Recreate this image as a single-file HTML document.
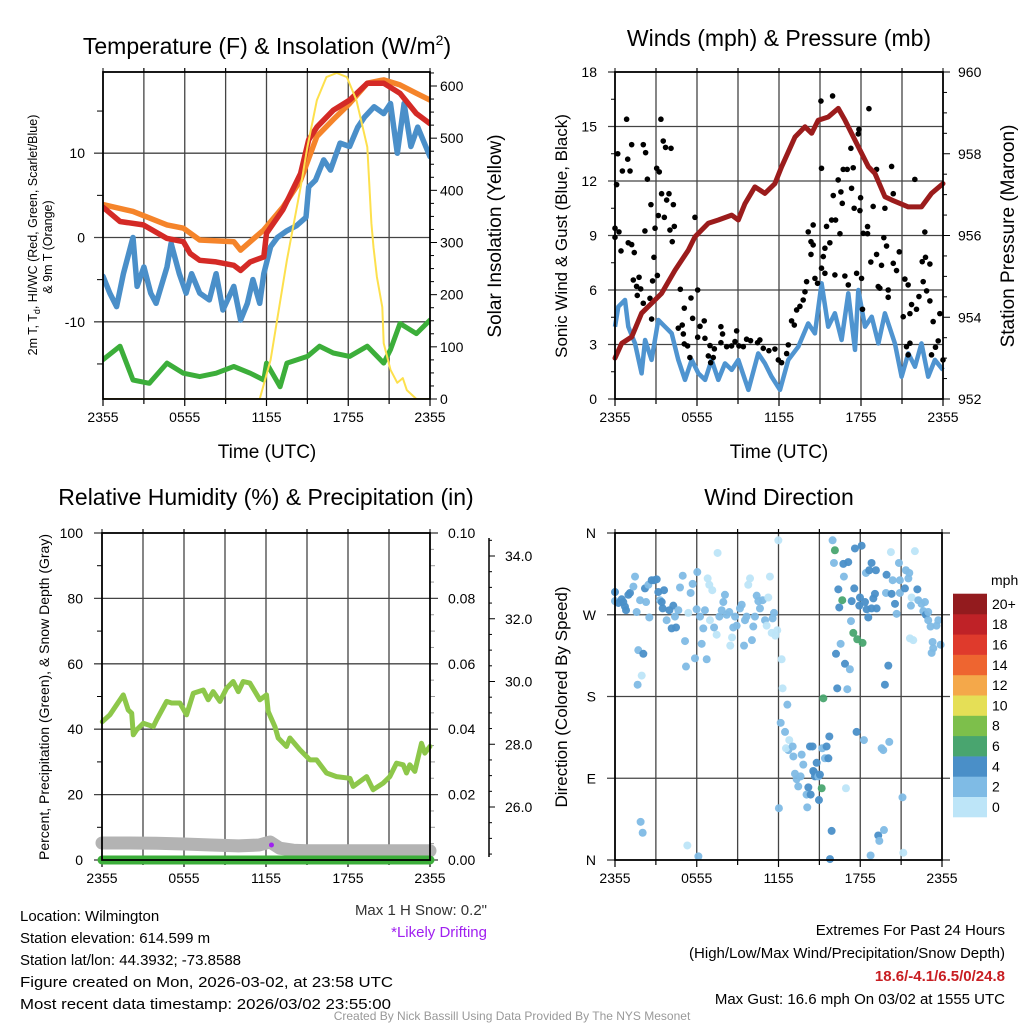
<!DOCTYPE html>
<html><head><meta charset="utf-8">
<style>
html,body{margin:0;padding:0;background:#fff;}
svg{display:block;font-family:"Liberation Sans",sans-serif;}
</style></head>
<body>
<svg id="c" width="1024" height="1024" viewBox="0 0 1024 1024" xmlns="http://www.w3.org/2000/svg">
<rect width="1024" height="1024" fill="#fff"/>
<text x="267" y="54" font-size="23" text-anchor="middle">Temperature (F) &amp; Insolation (W/m<tspan font-size="14" dy="-9">2</tspan><tspan dy="9">)</tspan></text>
<text x="779" y="46" font-size="23" text-anchor="middle">Winds (mph) &amp; Pressure (mb)</text>
<text x="266" y="505" font-size="23" text-anchor="middle">Relative Humidity (%) &amp; Precipitation (in)</text>
<text x="779" y="505" font-size="23" text-anchor="middle">Wind Direction</text>

<text transform="translate(37,235) rotate(-90)" font-size="12.5" text-anchor="middle">2m T, T<tspan font-size="9" dy="3">d</tspan><tspan dy="-3">, HI/WC (Red, Green, Scarlet/Blue)</tspan></text>
<text transform="translate(52,247) rotate(-90)" font-size="12.5" text-anchor="middle">&amp; 9m T (Orange)</text>
<text transform="translate(501,236) rotate(-90)" font-size="19" text-anchor="middle">Solar Insolation (Yellow)</text>
<text x="267" y="458" font-size="19" text-anchor="middle">Time (UTC)</text>

<text transform="translate(567,236) rotate(-90)" font-size="17" text-anchor="middle">Sonic Wind &amp; Gust (Blue, Black)</text>
<text transform="translate(1014,236) rotate(-90)" font-size="19" text-anchor="middle">Station Pressure (Maroon)</text>
<text x="779" y="458" font-size="19" text-anchor="middle">Time (UTC)</text>

<text transform="translate(49,697) rotate(-90)" font-size="14" text-anchor="middle">Percent, Precipitation (Green), &amp; Snow Depth (Gray)</text>
<text transform="translate(567,697) rotate(-90)" font-size="17" text-anchor="middle">Direction (Colored By Speed)</text>

<text x="487" y="915" font-size="15" text-anchor="end" fill="#333">Max 1 H Snow: 0.2"</text>
<text x="487" y="937" font-size="15" text-anchor="end" fill="#a020f0">*Likely Drifting</text>

<g font-size="15">
<text x="20" y="921">Location: Wilmington</text>
<text x="20" y="943">Station elevation: 614.599 m</text>
<text x="20" y="965">Station lat/lon: 44.3932; -73.8588</text>
<text x="20" y="987" textLength="373" lengthAdjust="spacingAndGlyphs">Figure created on Mon, 2026-03-02, at 23:58 UTC</text>
<text x="20" y="1009" textLength="371" lengthAdjust="spacingAndGlyphs">Most recent data timestamp: 2026/03/02 23:55:00</text>
</g>
<g font-size="15" text-anchor="end">
<text x="1005" y="935">Extremes For Past 24 Hours</text>
<text x="1005" y="958">(High/Low/Max Wind/Precipitation/Snow Depth)</text>
<text x="1005" y="981" fill="#c81e22" font-weight="bold">18.6/-4.1/6.5/0/24.8</text>
<text x="1005" y="1004">Max Gust: 16.6 mph On 03/02 at 1555 UTC</text>
</g>
<text x="512" y="1020" font-size="12" text-anchor="middle" fill="#999">Created By Nick Bassill Using Data Provided By The NYS Mesonet</text>
</svg>
<script>
// ---------- Panel 1 data ----------
const redT=[0,1.25,2.96,4.67,5.9,6.4,7.1,8.3,9.6,10.1,10.8,11.8,12.0,13.2,14.5,15.1,15.7,16.9,18.1,19.4,20.6,21.8,23.0,24];
const redV=[3.6,1.9,1.5,-0.1,-0.5,-1.9,-2.7,-2.9,-3.3,-3.9,-2.9,-2.3,0.5,3.3,7.6,11.6,13.1,15.1,16.3,18.3,18.3,17.1,14.7,13.5];
const orangeT=[0,2.2,4.7,5.9,7.1,9.6,10.1,10.8,11.8,13.2,14.5,15.7,16.9,18.1,19.4,20.6,21.8,23.0,24];
const orangeV=[3.9,3.1,1.5,1.1,-0.3,-0.5,-1.5,-0.5,0.9,3.6,6.8,12.0,14.0,15.9,18.3,18.7,18.1,17.1,16.3];
const blueT=[0,0.5,1.0,1.5,2.2,2.5,3.0,3.5,3.9,4.7,5.0,5.6,6.1,6.5,7.1,7.8,8.3,8.8,9.6,10.1,10.6,11.0,11.5,11.8,12.3,12.8,13.5,14.2,14.9,15.1,15.6,16.2,16.7,17.4,18.1,18.7,19.2,19.9,20.6,21.1,21.6,22.1,22.6,23.1,24];
const blueV=[-4.6,-6.6,-8.2,-4.3,0,-5.8,-3.5,-6.6,-7.8,-3.5,-0.7,-4.3,-6.6,-4.3,-6.6,-7.4,-4.3,-8.6,-5.8,-9.8,-7.8,-5.0,-7.8,-4.3,-1.1,0,0.8,1.4,2.4,6.0,6.8,9.2,8.0,11.2,10.8,13.1,14.3,15.5,14.7,15.9,10.0,15.9,10.8,13.1,9.6];
const greenT=[0,1.25,2.2,3.4,4.7,5.9,7.1,8.3,9.6,10.8,11.8,12.0,13.0,13.5,15.0,15.9,16.9,18.1,19.4,20.6,21.1,21.8,23.0,24];
const greenV=[-14.5,-12.9,-16.9,-17.3,-14.9,-16.1,-16.5,-16.1,-15.3,-16.1,-16.9,-14.9,-17.7,-14.9,-14.1,-12.9,-13.7,-14.1,-12.9,-14.9,-13.3,-10.2,-11.4,-9.8];
const solarT=[0,11.5,12.3,13.5,14.5,15.0,15.7,16.4,17.15,17.9,18.6,19.4,19.7,19.85,20.1,20.5,20.6,21.1,21.6,22.0,22.3,23.0,24];
const solarV=[0,0,75,266,406,483,573,617,625,617,573,483,337,291,234,176,107,56,31,40,17,0,0];
const timeTicks=["2355","0555","1155","1755","2355"];
const tempTicks=[-10,0,10];
const solarTicks=[0,100,200,300,400,500,600];
// ---------- Panel 2 data ----------
const presT=[0,0.49,1.22,1.95,3.4,4.39,5.36,5.85,6.83,7.56,8.54,9.02,9.51,10.24,10.97,11.7,12.19,13.17,13.9,14.39,14.87,15.6,16.34,16.83,17.8,18.54,19.02,19.75,20.24,21.46,22.43,23.16,24];
const presV=[953.0,953.36,953.52,954.1,954.58,955.15,955.64,955.97,956.3,956.38,956.5,956.38,956.78,957.19,957.03,957.27,957.68,958.41,958.66,958.5,958.82,958.9,959.11,958.82,958.17,957.68,957.52,956.95,956.87,956.7,956.7,957.03,957.27];
const windT=[0,0.24,0.73,0.97,1.46,1.95,2.2,2.68,3.17,3.66,4.15,4.63,5.12,5.61,6.1,6.59,7.07,7.56,8.05,8.54,9.02,9.76,10.48,10.97,11.46,12.07,12.68,13.41,14.14,14.63,15.12,15.6,16.09,16.58,17.07,17.56,17.8,18.29,18.78,19.27,19.75,20.48,20.97,21.46,21.95,22.43,22.92,23.41,24];
const windV=[3.98,5.08,5.45,3.98,3.06,1.41,3.25,2.15,4.35,3.98,3.61,2.15,1.05,2.15,1.41,1.05,2.15,1.05,1.96,1.6,2.15,0.5,2.51,1.96,1.23,0.5,2.15,2.88,4.16,3.61,6.37,3.98,4.72,3.25,5.82,2.7,6.0,3.98,4.53,3.06,4.72,3.06,1.23,2.51,1.78,3.06,1.23,2.15,1.6];
const gustT=[0.85,0.2,0.12,0.54,1.1,0.93,1.22,2.07,2.24,2.37,3.36,3.53,3.7,4.1,3.05,3.24,3.41,3.95,3.78,4.27,2.63,3.17,3.61,2.93,4.34,4.02,4.19,2.19,0,0.29,0,0.44,0.97,1.22,1.41,2.85,3.1,2.75,1.34,1.76,1.58,1.88,1.63,2.56,2.07,2.68,4.78,5.85,6.05,5.56,5.07,4.92,4.63,5.0,5.68,6.22,6.53,5.07,5.31,5.48,6.05,6.58,6.95,7.27,6.83,7.19,7.0,7.75,7.87,7.75,8.17,8.53,8.9,8.78,9.07,9.39,9.63,9.92,10.43,10.6,10.85,11.26,11.7,11.95,12.19,12.56,12.68,12.92,13.12,13.29,13.53,13.77,13.9,14.02,14.63,14.82,14.14,14.5,14.34,14.5,14.34,15.36,15.72,15.48,15.85,16.14,16.46,15.24,15.11,15.36,16.09,16.82,17.07,17.68,18.04,18.11,15.97,16.53,16.63,17.31,17.5,17.92,17.97,16.33,16.7,16.99,17.43,17.8,17.85,17.26,15.11,15.07,15.92,18.58,19.14,20.24,18.16,18.48,18.48,18.89,19.75,20.36,19.67,19.87,19.14,19.5,18.72,19.26,19.38,20.36,20.6,19.99,19.99,20.8,21.21,21.45,21.94,22.67,22.72,22.48,23.04,22.55,22.8,22.24,23.04,21.7,22.06,21.58,21.09,21.33,21.58,23.28,23.77,23.65,23.45,23.16,21.45,24.0];
const gustV=[15.4,13.5,11.8,12.55,12.55,13.2,14.0,14.0,13.56,12.1,15.4,14.2,13.85,13.8,12.7,12.5,11.3,11.3,10.95,10.7,10.7,10.1,10.0,9.4,9.5,9.3,8.66,9.25,9.4,9.2,8.9,8.15,8.6,8.5,8.06,7.8,6.8,6.5,6.55,6.7,6.2,6.06,5.7,5.54,5.27,4.4,6.04,10.0,6.0,5.56,5.0,4.07,3.9,3.58,4.44,4.0,4.3,3.03,2.92,2.28,3.4,3.34,2.94,2.76,2.37,2.28,2.0,3.98,3.58,3.1,2.88,2.92,3.75,3.16,2.92,2.88,3.29,3.21,3.1,3.25,2.79,2.66,2.75,2.15,2.0,2.5,2.98,4.3,4.07,4.9,5.1,5.45,5.9,6.46,6.64,6.37,9.2,9.58,8.66,8.48,7.96,8.3,8.6,9.5,9.85,9.85,9.1,7.84,7.2,6.92,6.83,6.77,6.28,6.92,6.64,4.94,11.2,11.4,10.77,11.6,10.5,10.37,11.08,12.06,12.64,12.64,12.73,14.59,14.84,13.8,12.7,16.4,16.68,15.98,12.64,12.8,9.12,9.49,9.1,10.6,10.5,11.3,8.88,8.42,7.96,7.36,7.54,6.19,6.1,7.47,7.07,6.0,5.6,8.1,6.6,6.28,12.09,9.19,7.8,7.56,7.43,6.46,5.95,5.64,5.4,5.2,4.94,4.7,4.53,2.88,3.07,4.26,4.7,3.2,2.85,2.43,2.43,2.15];
const windTicks=[0,3,6,9,12,15,18];
const presTicks=[952,954,956,958,960];
// ---------- Panel 3 data ----------
const rhT=[0.02,0.58,1.56,1.92,2.17,2.29,2.53,3.02,3.75,4.0,4.73,5.09,5.7,6.19,6.68,7.41,7.77,8.14,8.63,9.12,9.6,9.97,10.33,10.82,11.55,12.04,12.16,12.65,12.89,13.5,13.75,14.48,15.21,15.7,16.43,17.16,18.14,18.38,19.36,19.84,20.57,21.06,21.55,22.04,22.28,22.52,22.89,23.38,23.62,23.99];
const rhV=[42.3,44.4,50.5,45.9,44.9,38.3,39.8,41.8,40.8,42.9,48.5,48.0,48.0,44.4,51.0,52.0,49.0,51.5,48.5,52.5,54.6,51.5,54.6,54.1,49.0,50.5,45.4,40.8,37.3,34.7,37.3,33.7,30.6,30.6,26.6,25.5,25.0,22.5,25.5,21.5,23.5,25.5,29.6,29.1,26.6,29.1,27.1,35.7,32.7,34.7];
const snowT=[0,2,4,6,8,10,11.5,12.3,13,14,15,18,21,24];
const snowV=[5.2,5.2,5.1,4.9,4.6,4.3,4.6,5.5,3.6,3.0,2.8,2.8,2.8,2.8];
const precipT=[0,24];
const precipV=[0,0];
const rhTicks=[0,20,40,60,80,100];
const precTicks=["0.00","0.02","0.04","0.06","0.08","0.10"];
const depthTicks=["26.0","28.0","30.0","32.0","34.0"];
// ---------- Panel 4 data ----------
const dirT=[0,0,0.25,0.49,0.73,0.81,0.61,0.98,1.1,1.35,1.47,1.59,1.84,2.2,2.28,2.52,2.45,2.69,2.86,3.06,3.18,3.3,3.43,3.6,3.5,3.79,3.99,4.16,4.28,4.4,4.48,4.65,4.77,4.97,5.14,5.21,5.38,5.55,5.7,5.87,5.99,6.04,6.24,6.36,6.48,6.6,6.73,6.8,6.92,6.97,7.14,7.27,7.46,7.53,7.66,7.83,7.95,8.07,8.2,8.39,8.46,8.59,8.68,8.81,8.93,9.17,9.3,9.47,9.54,9.66,9.78,9.91,10.05,10.15,10.27,10.4,10.52,10.64,10.84,11.01,11.13,11.25,11.37,11.5,11.57,11.67,11.77,11.91,1.71,2.08,1.96,1.66,1.88,2.03,5.31,6.12,11.99,12.23,12.3,12.65,12.16,12.48,12.79,12.72,12.55,13.04,13.09,13.33,13.21,13.45,13.62,13.7,13.82,14.06,14.19,14.11,14.36,14.31,14.5,14.6,14.68,14.55,14.8,14.92,14.97,15.04,15.21,15.17,15.29,15.41,15.53,15.66,15.73,15.9,15.78,12.03,16.95,17.73,18.27,19.57,19.69,20.13,19.74,19.32,19.4,18.76,21.1,21.16,15.97,16.14,16.07,16.76,17.12,16.8,16.39,16.68,16.46,17.37,17.61,18.1,17.56,17.98,17.93,18.35,18.47,18.59,18.83,18.42,18.66,19.15,18.96,19.08,18.83,19.2,19.93,19.89,20.38,20.3,20.55,20.67,20.84,20.91,20.91,21.28,21.35,21.53,21.6,21.77,21.72,22.01,22.19,22.26,22.5,22.63,22.75,22.82,22.99,22.99,23.16,23.6,23.73,23.9,23.31,23.36,23.24,21.65,21.89,20.25,17.32,17.49,17.78,18.17,16.56,16.22,16.88,17.24,16.31,17.05,19.81,20.06];
const dirDeg=[295,285,283,287,279,275,284,292,294,301,312,273,286,299,284,267,303,308,308,309,295,286,284,297,277,264,275,255,280,268,256,275,300,313,241,213,272,294,304,222,276,317,268,238,255,275,221,310,303,264,297,256,248,338,268,275,284,292,270,273,236,245,256,268,258,277,281,236,264,268,303,310,242,257,268,291,285,277,286,264,258,289,312,250,266,272,247,253,231,227,203,193,42,30,16,4,352,221,189,171,151,141,132,121,123,125,114,89,95,81,92,116,105,72,80,58,72,125,125,97,92,98,107,92,66,94,123,79,178,112,125,112,136,32,1,57,79,141,132,123,121,130,33,27,21,5,69,8,352,341,327,326,328,312,298,286,278,285,343,346,299,289,280,284,276,267,327,316,319,319,288,293,277,277,314,294,308,293,282,271,327,308,294,299,319,310,316,289,280,340,298,286,282,274,284,270,273,264,257,258,264,237,240,233,228,244,242,339,263,250,243,239,238,227,216,210,189,188,193,214];
const dirSpd=[5,3,5,5,5,5,5,5,5,3,3,3,3,5,3,3,3,5,5,5,5,3,5,5,5,3,5,5,5,3,5,3,3,3,3,3,1,3,3,3,3,3,3,3,3,3,3,1,1,1,1,3,1,1,3,3,3,3,3,3,1,1,3,3,3,3,3,3,3,3,1,1,3,3,3,3,3,3,3,3,1,1,1,1,3,3,1,1,3,5,1,3,3,3,1,3,1,1,1,3,3,3,1,3,1,3,3,3,3,3,3,3,3,3,5,3,5,5,5,5,5,5,5,3,5,5,3,7,7,3,5,5,5,5,5,3,1,5,3,3,3,3,3,5,3,3,3,1,3,7,3,5,5,3,5,7,5,5,5,5,5,5,5,5,5,5,5,3,5,5,5,5,5,5,5,3,3,5,5,3,3,3,3,5,3,3,3,1,3,1,5,3,3,3,3,5,3,3,3,3,3,3,3,3,3,1,1,1,3,7,7,7,3,5,5,3,5,3,5,5,3];
const dirTicks=["N","E","S","W","N"];
const cbLabels=["0","2","4","6","8","10","12","14","16","18","20+"];
const cbColors=["#bde5f8","#7fbbe5","#4a8fc8","#49a56f","#7dbf4b","#e5df56","#f4a84a","#ee6530","#df3a2c","#bf2227","#931b1e"];
</script>
<script>
const NS="http://www.w3.org/2000/svg";
const svg=document.getElementById('c');
function mk(tag,attrs,parent){const e=document.createElementNS(NS,tag);for(const k in attrs)e.setAttribute(k,attrs[k]);(parent||svg).appendChild(e);return e;}
function txt(s,x,y,size,anchor,parent){const e=mk('text',{x:x,y:y,'font-size':size,'text-anchor':anchor},parent);e.textContent=s;return e;}
function lin(x0,x1,d0,d1){return v=>x0+(v-d0)*(x1-x0)/(d1-d0);}
function pathOf(T,V,sx,sy){let d='';let pen=false;for(let i=0;i<T.length;i++){if(V[i]===null){pen=false;continue;}d+=(pen?'L':'M')+sx(T[i]).toFixed(1)+' '+sy(V[i]).toFixed(1);pen=true;}return d;}

function frame(name,L,R,Tp,B,xt){
  const g=mk('g',{});
  
  
  const sx=lin(L,R,0,24);
  for(let h=3;h<24;h+=3){const l=mk('line',{x1:sx(h),x2:sx(h),y1:Tp,y2:B,stroke:'#444','stroke-width':1.3},g);
    
    
    mk('line',{x1:sx(h),x2:sx(h),y1:Tp-4,y2:Tp,stroke:'#000','stroke-width':1.2},g);
    mk('line',{x1:sx(h),x2:sx(h),y1:B,y2:B+(h%6===0?7:5),stroke:'#000','stroke-width':1.2},g);}
  mk('line',{x1:L,x2:L,y1:B,y2:B+7,stroke:'#000','stroke-width':1.2},g);
  mk('line',{x1:R,x2:R,y1:B,y2:B+7,stroke:'#000','stroke-width':1.2},g);
  mk('line',{x1:L,x2:L,y1:Tp-4,y2:Tp,stroke:'#000'},g);mk('line',{x1:R,x2:R,y1:Tp-4,y2:Tp,stroke:'#000'},g);
  xt.forEach((s,i)=>{const t=txt(s,L+i*(R-L)/4,B+23,14,'middle',g);
    
    });
  return g;
}
function border(L,R,Tp,B,name){const r=mk('rect',{x:L,y:Tp,width:R-L,height:B-Tp,fill:'none',stroke:'#000','stroke-width':1.8});
  
  }

// ================= Panel 1 =================
(function(){
  const L=103,R=430,Tp=72,B=399;
  const sx=lin(L,R,0,24), sy=lin(237.5,153.2,0,10), sr=lin(399,86,0,600);
  const g=frame('temperature',L,R,Tp,B,timeTicks);
  tempTicks.forEach(v=>{mk('line',{x1:L-9,x2:R,y1:sy(v),y2:sy(v),stroke:'#444','stroke-width':1.3},g);
    const t=txt(String(v),85,sy(v)+5,14,'end',g);
    
    });
  for(let v=-15;v<=15;v+=10)mk('line',{x1:L-6,x2:L,y1:sy(v),y2:sy(v),stroke:'#000'},g);
  for(let v=0;v<=625;v+=25)mk('line',{x1:R,x2:R+(v%100===0?7:4),y1:sr(v),y2:sr(v),stroke:'#000'},g);
  solarTicks.forEach(v=>{const t=txt(String(v),440,sr(v)+5,14,'start',g);
    
    });
  const clip=mk('clipPath',{id:'cp1'});mk('rect',{x:L,y:Tp,width:R-L,height:B-Tp},clip);
  const series=[['green-line',greenT,greenV,'#3cae3a',5,sy],['blue-line',blueT,blueV,'#4a8fc9',5.5,sy],['orange-line',orangeT,orangeV,'#f5842a',5.5,sy],['red-line',redT,redV,'#d42a26',5.5,sy],['solar-line',solarT,solarV,'#fde04d',2,sr]];
  series.forEach(s=>{const p=mk('path',{d:pathOf(s[1],s[2],sx,s[5]),fill:'none',stroke:s[3],'stroke-width':s[4],'stroke-linejoin':'round','stroke-linecap':'round','clip-path':'url(#cp1)'});
    
    });
  border(L,R,Tp,B,'temperature');
})();

// ================= Panel 2 =================
(function(){
  const L=615,R=943,Tp=72,B=399;
  const sx=lin(L,R,0,24), sy=lin(B,Tp,0,18), sp=lin(B,Tp,952,960);
  const g=frame('winds',L,R,Tp,B,timeTicks);
  windTicks.forEach(v=>{if(v>0&&v<18)mk('line',{x1:L-7,x2:R,y1:sy(v),y2:sy(v),stroke:'#444','stroke-width':1.3},g);
    else mk('line',{x1:L-7,x2:L,y1:sy(v),y2:sy(v),stroke:'#000'},g);
    const t=txt(String(v),597,sy(v)+5,14,'end',g);
    
    });
  for(let v=1.5;v<18;v+=3)mk('line',{x1:L-4,x2:L,y1:sy(v),y2:sy(v),stroke:'#000'},g);
  for(let v=952;v<=960.01;v+=0.5)mk('line',{x1:R,x2:R+(Math.abs(v-Math.round(v/2)*2)<0.01?7:4),y1:sp(v),y2:sp(v),stroke:'#000'},g);
  presTicks.forEach(v=>{const t=txt(String(v),958,sp(v)+5,14,'start',g);
    
    });
  const w=mk('path',{d:pathOf(windT,windV,sx,sy),fill:'none',stroke:'#4f94d0','stroke-width':4.5,'stroke-linejoin':'round'});
  
  
  const gg=mk('g',{});
  
  
  gustT.forEach((t,i)=>{mk('circle',{cx:sx(t),cy:sy(gustV[i]),r:2.8,fill:'#000'},gg);});
  const p=mk('path',{d:pathOf(presT,presV,sx,sp),fill:'none',stroke:'#9b1c1c','stroke-width':5,'stroke-linejoin':'round','stroke-linecap':'round'});
  
  
  border(L,R,Tp,B,'winds');
})();

// ================= Panel 3 =================
(function(){
  const L=102,R=430,Tp=533,B=860;
  const sx=lin(L,R,0,24), sy=lin(B,Tp,0,100), sd=lin(807,556,26,34);
  const g=frame('humidity',L,R,Tp,B,timeTicks);
  rhTicks.forEach((v,i)=>{if(v>0&&v<100)mk('line',{x1:L-8,x2:R+8,y1:sy(v),y2:sy(v),stroke:'#444','stroke-width':1.3},g);
    else {mk('line',{x1:L-8,x2:L,y1:sy(v),y2:sy(v),stroke:'#000'},g);mk('line',{x1:R,x2:R+8,y1:sy(v),y2:sy(v),stroke:'#000'},g);}
    const t=txt(String(v),83,sy(v)+5,14,'end',g);
    
    
    const t2=txt(precTicks[i],448,sy(v)+5,14,'start',g);
    
    });
  for(let v=10;v<100;v+=20){mk('line',{x1:L-5,x2:L,y1:sy(v),y2:sy(v),stroke:'#000'},g);mk('line',{x1:R,x2:R+5,y1:sy(v),y2:sy(v),stroke:'#999'},g);}
  for(let v=5;v<100;v+=10)mk('line',{x1:R,x2:R+4,y1:sy(v),y2:sy(v),stroke:'#999'},g);
  mk('line',{x1:489,x2:489,y1:Tp+5,y2:B-3,stroke:'#000','stroke-width':1.5},g);
  for(let v=24.5;v<=34.75;v+=0.5)mk('line',{x1:489,x2:489+(Math.abs(v-Math.round(v/2)*2)<0.01?6:3),y1:sd(v),y2:sd(v),stroke:'#000'},g);
  depthTicks.forEach(s=>{const t=txt(s,505,sd(parseFloat(s))+5,14,'start',g);
    
    });
  const sn=mk('path',{d:pathOf(snowT,snowV,sx,sy),fill:'none',stroke:'#b3b3b3','stroke-width':13,'stroke-linejoin':'round','stroke-linecap':'round'});
  
  
  const pr=mk('path',{d:pathOf(precipT,precipV,sx,sy),fill:'none',stroke:'#3cae3a','stroke-width':9,'stroke-linecap':'round'});
  
  
  const dot=mk('circle',{cx:sx(12.4),cy:sy(4.6),r:2.5,fill:'#a020f0'});
  
  
  const rh=mk('path',{d:pathOf(rhT,rhV,sx,sy),fill:'none',stroke:'#8dc74a','stroke-width':5,'stroke-linejoin':'round','stroke-linecap':'round'});
  
  
  border(L,R,Tp,B,'humidity');
})();

// ================= Panel 4 =================
(function(){
  const L=615,R=942,Tp=533,B=860;
  const sx=lin(L,R,0,24), sy=lin(B,Tp,0,360);
  const g=frame('direction',L,R,Tp,B,timeTicks);
  dirTicks.forEach((s,i)=>{const y=sy(i*90);
    if(i>0&&i<4)mk('line',{x1:L-8,x2:R+8,y1:y,y2:y,stroke:'#444','stroke-width':1.3},g);
    else {mk('line',{x1:L-8,x2:L,y1:y,y2:y,stroke:'#000'},g);mk('line',{x1:R,x2:R+8,y1:y,y2:y,stroke:'#000'},g);}
    const t=txt(s,596,y+5,14,'end',g);
    
    });
  const gg=mk('g',{'fill-opacity':0.95});
  
  
  dirT.forEach((t,i)=>{const c=cbColors[Math.min(10,Math.floor(dirSpd[i]/2))];
    mk('circle',{cx:sx(t),cy:sy(dirDeg[i]),r:4,fill:c},gg);});
  border(L,R,Tp,B,'direction');
  const cb=mk('g',{});
  
  
  const h=20.3, bot=817;
  cbColors.forEach((c,i)=>{mk('rect',{x:953,y:bot-(i+1)*h,width:34,height:h+0.3,fill:c},cb);
    const t=txt(cbLabels[i],992,bot-i*h-h/2+5,14,'start',cb);
    
    });
  const u=txt('mph',991,585,14,'start',cb);
  
  
})();
</script>
</body></html>
